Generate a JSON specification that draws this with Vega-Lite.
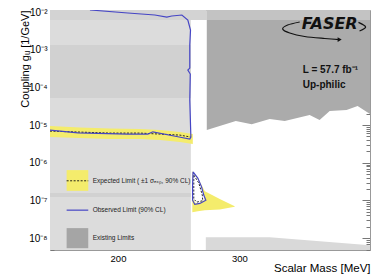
{
  "$schema": "https://vega.github.io/schema/vega-lite/v6.json",
  "width": 320,
  "height": 240,
  "autosize": {"type": "none"},
  "padding": {"left": 50, "top": 10, "right": 2, "bottom": 27},
  "background": "white",
  "config": {"view": {"stroke": null}, "font": "Liberation Sans"},
  "datasets": {
    "rects": [
      {"m": 144, "m2": 260, "g": 4.86e-9, "g2": 0.0113, "shade": "light"},
      {"m": 144, "m2": 260, "g": 5.2e-5, "g2": 1.33e-3, "shade": "mid"},
      {"m": 144, "m2": 260, "g": 1.23e-7, "g2": 1.57e-7, "shade": "mid"},
      {"m": 144, "m2": 273.1, "g": 6.1e-3, "g2": 0.0113, "shade": "strip"},
      {"m": 273.1, "m2": 407.5, "g": 6.1e-3, "g2": 0.0113, "shade": "dstrip"},
      {"m": 157.7, "m2": 175.5, "g": 1.8e-7, "g2": 6.4e-7, "shade": "yellow"},
      {"m": 157.7, "m2": 175.5, "g": 5.43e-9, "g2": 1.85e-8, "shade": "exist"}
    ],
    "dark": [
      {"m": 273.1, "g": 7.36e-6}, {"m": 297.0, "g": 1.28e-5}, {"m": 310.1, "g": 1.06e-5},
      {"m": 324.9, "g": 1.45e-5}, {"m": 337.3, "g": 1.28e-5}, {"m": 357.8, "g": 1.85e-5},
      {"m": 366.0, "g": 1.36e-5}, {"m": 374.3, "g": 2.36e-5}, {"m": 388.2, "g": 2.5e-5},
      {"m": 397.3, "g": 3.2e-5}, {"m": 407.5, "g": 1.96e-5}
    ],
    "lightBR": [
      {"m": 272.3, "g": 1.06e-8}, {"m": 324.9, "g": 1.06e-8}, {"m": 407.5, "g": 6.5e-9}
    ],
    "band": [
      {"part": "main", "m": 144, "g": 4.81e-6, "g2": 9.4e-6},
      {"part": "main", "m": 168.7, "g": 4.52e-6, "g2": 8.6e-6},
      {"part": "main", "m": 193.3, "g": 4.26e-6, "g2": 8.1e-6},
      {"part": "main", "m": 218.0, "g": 4.26e-6, "g2": 7.83e-6},
      {"part": "main", "m": 234.5, "g": 4.0e-6, "g2": 7.38e-6},
      {"part": "main", "m": 250.9, "g": 3.54e-6, "g2": 6.52e-6},
      {"part": "main", "m": 261.6, "g": 3.13e-6, "g2": 5.77e-6},
      {"part": "island", "m": 261.2, "g": 4.91e-8, "g2": 6.01e-7},
      {"part": "island", "m": 265.7, "g": 5.21e-8, "g2": 3.92e-7},
      {"part": "island", "m": 271.5, "g": 5.54e-8, "g2": 1.77e-7},
      {"part": "island", "m": 283.8, "g": 5.78e-8, "g2": 1.09e-7},
      {"part": "island", "m": 296.1, "g": 6.87e-8, "g2": 7.08e-8}
    ],
    "white": [
      {"m": 261.6, "g": 1.09e-7, "g2": 5.32e-7},
      {"m": 264.1, "g": 8.5e-8, "g2": 4.43e-7},
      {"m": 266.6, "g": 8.5e-8, "g2": 3.27e-7},
      {"m": 269.0, "g": 9.6e-8, "g2": 2.13e-7},
      {"m": 271.1, "g": 1.02e-7, "g2": 1.31e-7}
    ],
    "expected": [
      {"part": "main", "i": 0, "m": 144, "g": 6.93e-6},
      {"part": "main", "i": 1, "m": 168.7, "g": 6.52e-6},
      {"part": "main", "i": 2, "m": 193.3, "g": 6.14e-6},
      {"part": "main", "i": 3, "m": 218.0, "g": 6.14e-6},
      {"part": "main", "i": 4, "m": 234.5, "g": 5.77e-6},
      {"part": "main", "i": 5, "m": 250.9, "g": 5.43e-6},
      {"part": "main", "i": 6, "m": 260.0, "g": 4.81e-6},
      {"part": "island", "i": 0, "m": 262.4, "g": 4.71e-7},
      {"part": "island", "i": 1, "m": 266.6, "g": 2.88e-7},
      {"part": "island", "i": 2, "m": 269.4, "g": 1.39e-7},
      {"part": "island", "i": 3, "m": 269.8, "g": 9.9e-8},
      {"part": "island", "i": 4, "m": 264.9, "g": 9.04e-8},
      {"part": "island", "i": 5, "m": 262.4, "g": 1.09e-7},
      {"part": "island", "i": 6, "m": 262.4, "g": 3.47e-7},
      {"part": "island", "i": 7, "m": 262.4, "g": 4.71e-7},
      {"part": "leg", "i": 0, "m": 157.7, "g": 3.33e-7},
      {"part": "leg", "i": 1, "m": 175.5, "g": 3.33e-7}
    ],
    "observed": [
      {"part": "main", "i": 0, "m": 176.9, "g": 0.0113},
      {"part": "main", "i": 1, "m": 208.1, "g": 9.4e-3},
      {"part": "main", "i": 2, "m": 230.3, "g": 8.32e-3},
      {"part": "main", "i": 3, "m": 240.2, "g": 7.36e-3},
      {"part": "main", "i": 4, "m": 244.3, "g": 7.83e-3},
      {"part": "main", "i": 5, "m": 252.6, "g": 8.32e-3},
      {"part": "main", "i": 6, "m": 257.5, "g": 6.14e-3},
      {"part": "main", "i": 7, "m": 259.7, "g": 3.33e-3},
      {"part": "main", "i": 8, "m": 259.1, "g": 1.33e-3},
      {"part": "main", "i": 9, "m": 259.1, "g": 3.26e-4},
      {"part": "main", "i": 10, "m": 257.5, "g": 2.88e-4},
      {"part": "main", "i": 11, "m": 259.5, "g": 2.26e-4},
      {"part": "main", "i": 12, "m": 259.1, "g": 4.61e-5},
      {"part": "main", "i": 13, "m": 260.0, "g": 4.81e-6},
      {"part": "main", "i": 14, "m": 259.1, "g": 4.26e-6},
      {"part": "main", "i": 15, "m": 249.3, "g": 4.9e-6},
      {"part": "main", "i": 16, "m": 228.7, "g": 6.64e-6},
      {"part": "main", "i": 17, "m": 224.6, "g": 5.77e-6},
      {"part": "main", "i": 18, "m": 208.1, "g": 5.77e-6},
      {"part": "main", "i": 19, "m": 167.0, "g": 6.25e-6},
      {"part": "main", "i": 20, "m": 144.0, "g": 7.38e-6},
      {"part": "island", "i": 0, "m": 261.8, "g": 5.77e-7},
      {"part": "island", "i": 1, "m": 265.7, "g": 3.92e-7},
      {"part": "island", "i": 2, "m": 268.8, "g": 2.3e-7},
      {"part": "island", "i": 3, "m": 270.6, "g": 1.39e-7},
      {"part": "island", "i": 4, "m": 272.3, "g": 1.02e-7},
      {"part": "island", "i": 5, "m": 267.4, "g": 8.35e-8},
      {"part": "island", "i": 6, "m": 263.2, "g": 7.86e-8},
      {"part": "island", "i": 7, "m": 261.4, "g": 1.02e-7},
      {"part": "island", "i": 8, "m": 261.4, "g": 2.55e-7},
      {"part": "island", "i": 9, "m": 261.8, "g": 5.77e-7},
      {"part": "leg", "i": 0, "m": 157.7, "g": 5.54e-8},
      {"part": "leg", "i": 1, "m": 175.5, "g": 5.54e-8}
    ],
    "swoosh": [
      {"part": "a", "i": 0, "m": 349.6, "g": 5.43e-3},
      {"part": "a", "i": 1, "m": 339.7, "g": 4.52e-3},
      {"part": "a", "i": 2, "m": 335.6, "g": 3.54e-3},
      {"part": "a", "i": 3, "m": 341.4, "g": 2.77e-3},
      {"part": "a", "i": 4, "m": 353.7, "g": 2.24e-3},
      {"part": "a", "i": 5, "m": 370.2, "g": 1.98e-3},
      {"part": "a", "i": 6, "m": 382.5, "g": 1.86e-3},
      {"part": "b", "i": 0, "m": 398.0, "g": 5.3e-3},
      {"part": "b", "i": 1, "m": 403.9, "g": 4.0e-3},
      {"part": "b", "i": 2, "m": 398.9, "g": 3.13e-3}
    ],
    "arrow": [{"m": 382.5, "g": 1.86e-3}],
    "legtext": [
      {"m": 179.1, "g": 3.33e-7, "t": "Expected Limit ( ±1 σₑₓₚ, 90% CL)"},
      {"m": 179.1, "g": 5.54e-8, "t": "Observed Limit (90% CL)"},
      {"m": 179.1, "g": 1.0e-8, "t": "Existing Limits"}
    ],
    "info": [
      {"m": 352.1, "g": 2.88e-4, "t": "L = 57.7 fb⁻¹"},
      {"m": 352.1, "g": 1.15e-4, "t": "Up-philic"}
    ],
    "logo": [{"m": 374.3, "g": 4.8e-3, "t": "FASER"}]
  },
  "layer": [
    {
      "encoding": {
        "x": {
          "field": "m", "type": "quantitative",
          "scale": {"domain": [144, 407.5], "nice": false, "zero": false},
          "axis": {
            "title": "Scalar Mass [MeV]", "titleAnchor": "end", "titleFontSize": 11.5,
            "titleFontWeight": "normal", "titleColor": "#000", "titlePadding": 0,
            "values": [200, 300], "format": "d", "labelFontSize": 9.5, "labelColor": "#000",
            "tickSize": -5, "labelPadding": 8, "tickColor": "#777", "domainColor": "#999",
            "grid": false
          }
        },
        "y": {
          "field": "g", "type": "quantitative",
          "scale": {"type": "log", "domain": [4.86e-9, 0.0113], "nice": false},
          "axis": {
            "title": "Coupling gᵤ [1/GeV]", "titleAnchor": "end", "titleFontSize": 11,
            "titleFontWeight": "normal", "titleColor": "#000", "titlePadding": -2,
            "values": [5e-9, 6e-9, 7e-9, 8e-9, 9e-9, 1e-8, 2e-8, 3e-8, 4e-8, 5e-8, 6e-8, 7e-8, 8e-8, 9e-8, 1e-7, 2e-7, 3e-7, 4e-7, 5e-7, 6e-7, 7e-7, 8e-7, 9e-7, 1e-6, 2e-6, 3e-6, 4e-6, 5e-6, 6e-6, 7e-6, 8e-6, 9e-6, 1e-5, 2e-5, 3e-5, 4e-5, 5e-5, 6e-5, 7e-5, 8e-5, 9e-5, 1e-4, 2e-4, 3e-4, 4e-4, 5e-4, 6e-4, 7e-4, 8e-4, 9e-4, 1e-3, 2e-3, 3e-3, 4e-3, 5e-3, 6e-3, 7e-3, 8e-3, 9e-3, 1e-2],
            "labelExpr": "abs(log(datum.value)/LN10 - round(log(datum.value)/LN10)) < 0.001 ? '10⁻' + ['⁰','¹','²','³','⁴','⁵','⁶','⁷','⁸','⁹'][-round(log(datum.value)/LN10)] : ''",
            "labelOverlap": false, "labelFlush": false,
            "labelFontSize": 10, "labelColor": "#000", "labelPadding": 11,
            "tickSize": {"condition": {"test": "abs(log(datum.value)/LN10 - round(log(datum.value)/LN10)) < 0.001", "value": -8}, "value": -4},
            "tickColor": "#777", "domainColor": "#999", "grid": false
          }
        }
      },
      "layer": [
        {
          "data": {"name": "dark"},
          "mark": {"type": "area", "color": "#ababab", "clip": true},
          "encoding": {"y2": {"datum": 0.0113}}
        },
        {
          "data": {"name": "rects"},
          "mark": {"type": "rect", "clip": true},
          "encoding": {
            "x2": {"field": "m2"},
            "y2": {"field": "g2"},
            "color": {
              "field": "shade", "type": "nominal", "legend": null,
              "scale": {"domain": ["light", "mid", "strip", "dstrip", "yellow", "exist"],
                        "range": ["#dcdcdc", "#d1d1d1", "#d3d3d3", "#c3c3c3", "#f4ec6c", "#a5a5a5"]}
            }
          }
        },
        {
          "data": {"name": "lightBR"},
          "mark": {"type": "area", "color": "#d9d9d9", "clip": true},
          "encoding": {"y2": {"datum": 4.86e-9}}
        },
        {
          "data": {"name": "band"},
          "mark": {"type": "area", "color": "#f4ec6c", "clip": true},
          "encoding": {"y2": {"field": "g2"}, "detail": {"field": "part"}}
        },
        {
          "data": {"name": "white"},
          "mark": {"type": "area", "color": "#ffffff", "clip": true},
          "encoding": {"y2": {"field": "g2"}}
        },
        {
          "data": {"name": "expected"},
          "mark": {"type": "line", "color": "#111111", "strokeWidth": 0.9, "strokeDash": [2, 1.5], "clip": true},
          "encoding": {"detail": {"field": "part"}, "order": {"field": "i"}}
        },
        {
          "data": {"name": "observed"},
          "mark": {"type": "line", "color": "#4545c5", "strokeWidth": 1.2, "clip": true},
          "encoding": {"detail": {"field": "part"}, "order": {"field": "i"}}
        },
        {
          "data": {"name": "swoosh"},
          "mark": {"type": "line", "color": "#111111", "strokeWidth": 1.2, "interpolate": "cardinal", "clip": true},
          "encoding": {"detail": {"field": "part"}, "order": {"field": "i"}}
        },
        {
          "data": {"name": "arrow"},
          "mark": {"type": "point", "shape": "triangle-right", "filled": true, "color": "#111111", "size": 22, "opacity": 1},
          "encoding": {}
        },
        {
          "data": {"name": "legtext"},
          "mark": {"type": "text", "align": "left", "baseline": "middle", "fontSize": 6.5, "color": "#222222"},
          "encoding": {"text": {"field": "t"}}
        },
        {
          "data": {"name": "info"},
          "mark": {"type": "text", "align": "left", "baseline": "middle", "fontSize": 10, "fontWeight": "bold", "color": "#111111"},
          "encoding": {"text": {"field": "t"}}
        },
        {
          "data": {"name": "logo"},
          "mark": {"type": "text", "align": "center", "baseline": "middle", "font": "DejaVu Sans", "fontSize": 16, "fontWeight": "bold", "fontStyle": "italic", "color": "#111111"},
          "encoding": {"text": {"field": "t"}}
        }
      ]
    },
    {
      "data": {"values": [{"m": 200, "g": 1e-5}]},
      "mark": {"type": "point", "opacity": 0},
      "encoding": {
        "x": {
          "field": "m", "type": "quantitative",
          "scale": {"domain": [144, 407.5], "nice": false, "zero": false},
          "axis": {"orient": "top", "title": null, "labels": false, "values": [200, 300], "tickSize": -5, "tickColor": "#777", "domainColor": "#999", "grid": false}
        },
        "y": {
          "field": "g", "type": "quantitative",
          "scale": {"type": "log", "domain": [4.86e-9, 0.0113], "nice": false},
          "axis": {
            "orient": "right", "title": null, "labels": false,
            "values": [5e-9, 6e-9, 7e-9, 8e-9, 9e-9, 1e-8, 2e-8, 3e-8, 4e-8, 5e-8, 6e-8, 7e-8, 8e-8, 9e-8, 1e-7, 2e-7, 3e-7, 4e-7, 5e-7, 6e-7, 7e-7, 8e-7, 9e-7, 1e-6, 2e-6, 3e-6, 4e-6, 5e-6, 6e-6, 7e-6, 8e-6, 9e-6, 1e-5, 2e-5, 3e-5, 4e-5, 5e-5, 6e-5, 7e-5, 8e-5, 9e-5, 1e-4, 2e-4, 3e-4, 4e-4, 5e-4, 6e-4, 7e-4, 8e-4, 9e-4, 1e-3, 2e-3, 3e-3, 4e-3, 5e-3, 6e-3, 7e-3, 8e-3, 9e-3, 1e-2],
            "tickSize": {"condition": {"test": "abs(log(datum.value)/LN10 - round(log(datum.value)/LN10)) < 0.001", "value": -8}, "value": -4},
            "tickColor": "#777", "domainColor": "#999", "grid": false
          }
        }
      }
    }
  ],
  "resolve": {"axis": {"x": "independent", "y": "independent"}}
}
